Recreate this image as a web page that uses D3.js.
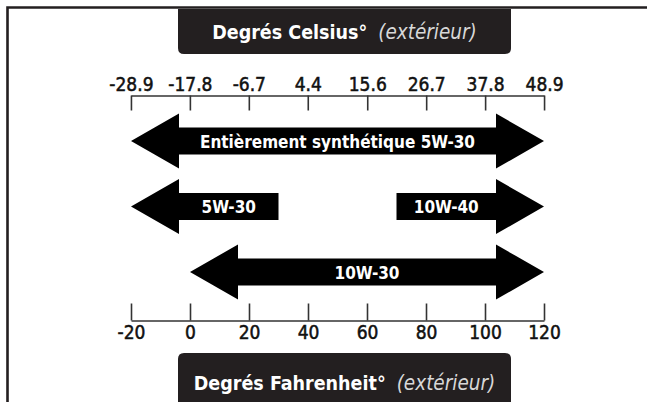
<!DOCTYPE html>
<html><head><meta charset="utf-8">
<script src="https://cdn.jsdelivr.net/npm/d3@7"></script>
<style>
body{margin:0;background:#fff}
svg{display:block}
text{font-family:"Liberation Sans Narrow","DejaVu Sans Condensed",sans-serif;font-stretch:condensed}
</style></head><body>
<script>
// ---- data ----
const fahrenheitTicks = [-20, 0, 20, 40, 60, 80, 100, 120];
const celsiusTickLabels = ["-28.9", "-17.8", "-6.7", "4.4", "15.6", "26.7", "37.8", "48.9"];
const oilGrades = ["Entièrement synthétique 5W-30", "5W-30", "10W-40", "10W-30"];
const gradeRow = [0, 1, 1, 2];
const rangeLowF = [-20, -20, 70, 0];
const rangeHighF = [120, 30, 120, 120];
const arrowLeft = [true, true, false, true];
const arrowRight = [true, false, true, true];
const titleTop = ["Degrés Celsius°", "(extérieur)"];
const titleBottom = ["Degrés Fahrenheit°", "(extérieur)"];

// ---- layout ----
const W = 647, H = 402;
const dark = "#231f20";
const svg = d3.select("body").append("svg").attr("width", W).attr("height", H);

const x = d3.scaleLinear().domain([d3.min(fahrenheitTicks), d3.max(fahrenheitTicks)]).range([131, 544]);
const toC = f => (f - 32) * 5 / 9;
const xC = d3.scaleLinear().domain(x.domain().map(toC)).range(x.range());
const y = d3.scalePoint().domain([0, 1, 2]).range([141, 272]);

// frame
svg.append("path").attr("d", `M7.5,${H} V7.5 H${W}`).attr("fill", "none")
  .attr("stroke", dark).attr("stroke-width", 2.6);

// title boxes
const bx0 = 178, bx1 = 511, r = 6, tb = 54, bt = 353;
svg.append("path").attr("fill", dark)
  .attr("d", `M${bx0},9 H${bx1} V${tb - r} Q${bx1},${tb} ${bx1 - r},${tb} H${bx0 + r} Q${bx0},${tb} ${bx0},${tb - r} Z`);
svg.append("path").attr("fill", dark)
  .attr("d", `M${bx0},${H} V${bt + r} Q${bx0},${bt} ${bx0 + r},${bt} H${bx1 - r} Q${bx1},${bt} ${bx1},${bt + r} V${H} Z`);

function title(parts, baseline) {
  const t = svg.append("text").attr("x", (bx0 + bx1) / 2).attr("y", baseline)
    .attr("text-anchor", "middle");
  t.append("tspan").attr("font-weight", "bold").attr("fill", "#fff").attr("font-size", 19.5).text(parts[0]);
  t.append("tspan").attr("dx", 11).attr("font-style", "italic").attr("fill", "#d8d8d8").attr("font-size", 20.5).text(parts[1]);
}
title(titleTop, 39);
title(titleBottom, 390);

// axes
const axTop = svg.append("g").attr("transform", "translate(0,95.5)")
  .call(d3.axisTop(xC).tickValues(celsiusTickLabels.map(Number))
    .tickFormat((d, i) => celsiusTickLabels[i]).tickSizeInner(-15).tickSizeOuter(0).tickPadding(5));
const axBot = svg.append("g").attr("transform", "translate(0,320.5)")
  .call(d3.axisBottom(x).tickValues(fahrenheitTicks).tickFormat(d => String(d))
    .tickSizeInner(-17).tickSizeOuter(0).tickPadding(5));
[axTop, axBot].forEach(g => {
  g.attr("font-family", null);
  g.selectAll("path,line").attr("stroke", "#333").attr("stroke-width", 1.6);
  g.selectAll("text").attr("fill", "#111").attr("font-size", 19)
    .attr("stroke", "#111").attr("stroke-width", 0.5);
});

// arrows
const hw = 48, hh = 27.5, sh = 13.5;
function arrowPath(x0, x1, cy, L, R) {
  const p = d3.path();
  if (L) { p.moveTo(x0, cy); p.lineTo(x0 + hw, cy - hh); p.lineTo(x0 + hw, cy - sh); }
  else { p.moveTo(x0, cy - sh); }
  if (R) { p.lineTo(x1 - hw, cy - sh); p.lineTo(x1 - hw, cy - hh); p.lineTo(x1, cy); p.lineTo(x1 - hw, cy + hh); p.lineTo(x1 - hw, cy + sh); }
  else { p.lineTo(x1, cy - sh); p.lineTo(x1, cy + sh); }
  if (L) { p.lineTo(x0 + hw, cy + sh); p.lineTo(x0 + hw, cy + hh); }
  else { p.lineTo(x0, cy + sh); }
  p.closePath();
  return p.toString();
}
oilGrades.forEach((g, i) => {
  const x0 = x(rangeLowF[i]), x1 = x(rangeHighF[i]), cy = y(gradeRow[i]);
  svg.append("path").attr("fill", "#000").attr("d", arrowPath(x0, x1, cy, arrowLeft[i], arrowRight[i]));
  const a = arrowLeft[i] && !arrowRight[i] ? x0 + hw : x0;
  const b = arrowRight[i] && !arrowLeft[i] ? x1 - hw : x1;
  svg.append("text").attr("x", (a + b) / 2).attr("y", cy + 6.5).attr("text-anchor", "middle")
    .attr("fill", "#fff").attr("font-weight", "bold").attr("font-size", 17).text(g);
});
</script>
</body></html>
